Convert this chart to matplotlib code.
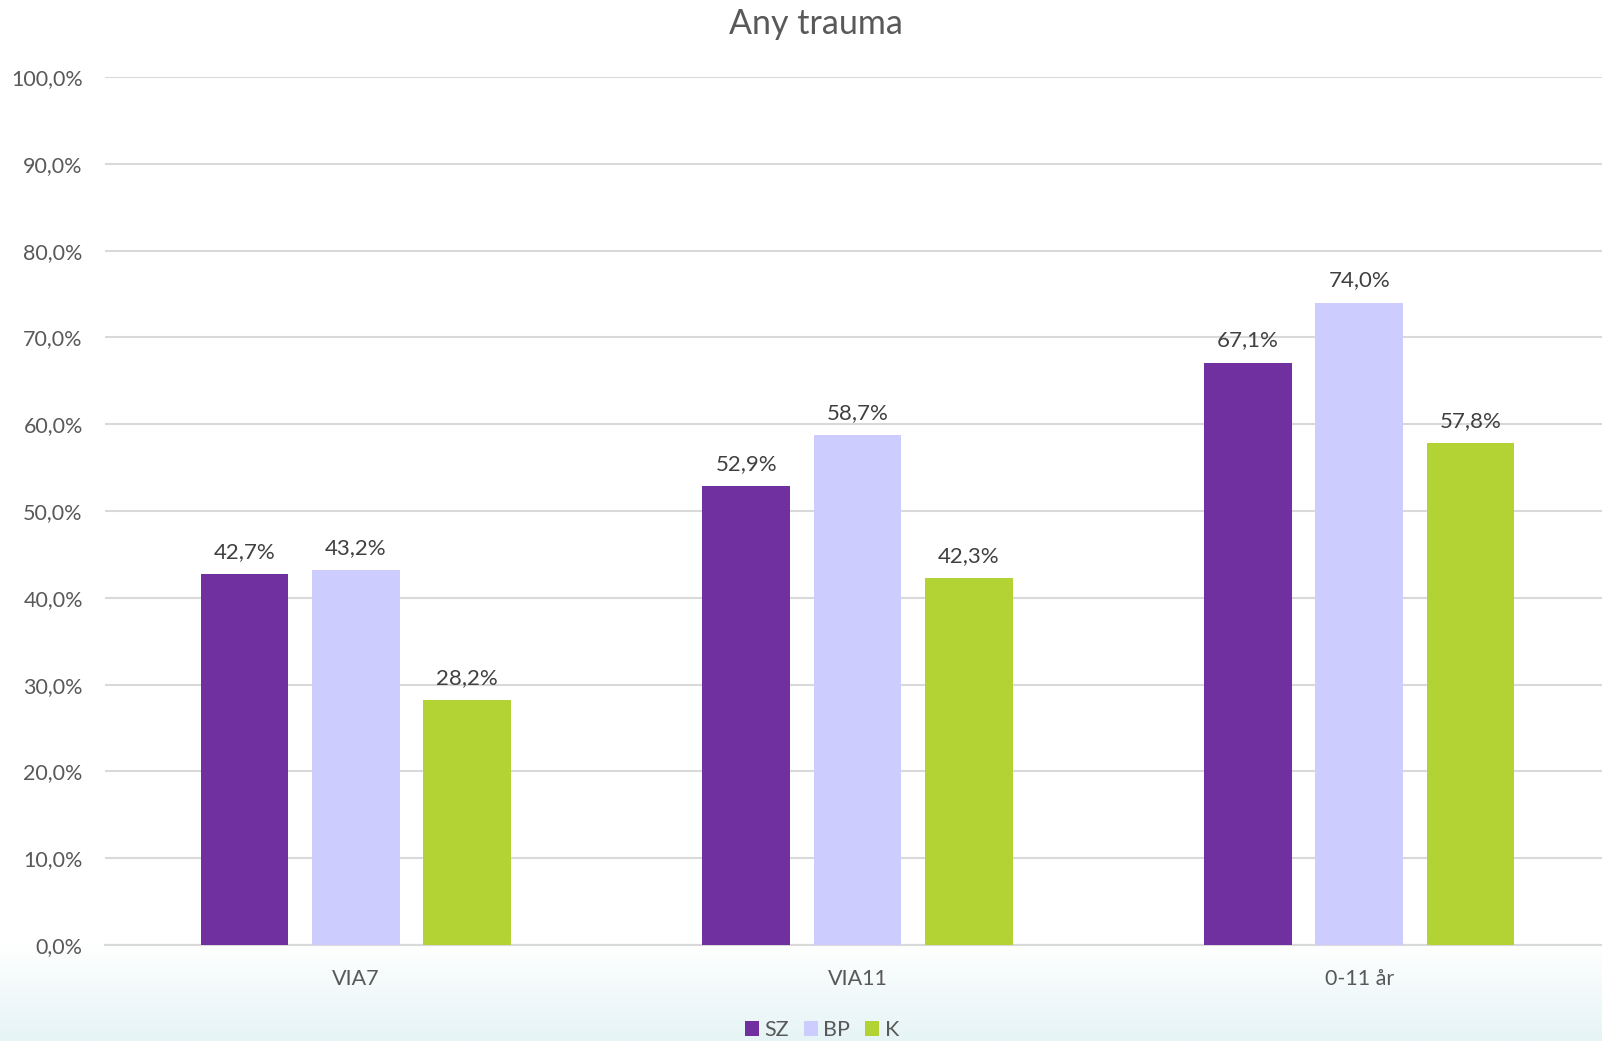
import matplotlib
matplotlib.use("Agg")
import matplotlib.pyplot as plt
import numpy as np
from matplotlib.patches import Patch

categories = ["VIA7", "VIA11", "0-11 år"]
series_names = ["SZ", "BP", "K"]
sz = [42.7, 52.9, 67.1]
bp = [43.2, 58.7, 74.0]
k = [28.2, 42.3, 57.8]
colors = ["#7030a0", "#ccccff", "#b3d335"]
yticks = [0, 10, 20, 30, 40, 50, 60, 70, 80, 90, 100]

plt.rcParams['font.family'] = ['Lato', 'DejaVu Sans']
txt = "#595959"

W, H = 1602, 1041
fig = plt.figure(figsize=(W/100, H/100), dpi=100)

# background gradient
bg = fig.add_axes([0, 0, 1, 1], zorder=-10)
bg.set_axis_off()
ny = 400
grad = np.ones((ny, 1, 3))
y_px = np.linspace(0, H, ny)
start = 945
c0 = np.array([1.0, 1.0, 1.0])
c1 = np.array([0xe6, 0xf4, 0xf6]) / 255
for i, yp in enumerate(y_px):
    t = 0 if yp < start else (yp - start) / (H - start)
    grad[i, 0] = c0 * (1 - t) + c1 * t
bg.imshow(grad, aspect='auto', extent=[0, 1, 1, 0])
bg.set_xlim(0, 1); bg.set_ylim(1, 0)

left = 105 / W
right = 1610 / W
bottom = 1 - 945 / H
top = 1 - 77 / H
ax = fig.add_axes([left, bottom, right - left, top - bottom])
ax.patch.set_alpha(0)

x = np.arange(len(categories))
spacing = 0.222
width = 0.175
for i, (vals, c, name) in enumerate(zip([sz, bp, k], colors, series_names)):
    pos = x + (i - 1) * spacing
    bars = ax.bar(pos, vals, width=width, color=c, label=name, zorder=3)
    for b, v in zip(bars, vals):
        ax.text(b.get_x() + b.get_width() / 2, v + 1.4, f"{v:.1f}%".replace(".", ","),
                ha='center', va='bottom', fontsize=16, color="#404040")

ax.set_xlim(-0.5, 2.5)
ax.set_ylim(0, 100)
ax.set_yticks(yticks)
ax.set_yticklabels([f"{t:.1f}%".replace(".", ",") for t in yticks], fontsize=15.5, color=txt)
ax.set_xticks(x)
ax.set_xticklabels(categories, fontsize=15.5, color=txt)
ax.tick_params(axis='both', length=0)
ax.tick_params(axis='y', pad=16)
ax.tick_params(axis='x', pad=17)
ax.grid(axis='y', color="#d9d9d9", linewidth=1.5, zorder=0)
for s in ["top", "right", "left"]:
    ax.spines[s].set_visible(False)
ax.spines["bottom"].set_color("#d9d9d9")
ax.spines["bottom"].set_linewidth(1.5)

fig.text(816 / W, 1 - 24 / H, "Any trauma", ha='center', va='center', fontsize=24.5, color=txt)

handles = [Patch(facecolor=c, label=n) for c, n in zip(colors, series_names)]
fig.legend(handles=handles, loc='center', bbox_to_anchor=(822 / W, 1 - 1030 / H), ncol=3,
           frameon=False, fontsize=15.5, handlelength=0.65, handleheight=0.65,
           handletextpad=0.25, columnspacing=0.7, labelcolor=txt)

fig.savefig("out.png", dpi=100)
